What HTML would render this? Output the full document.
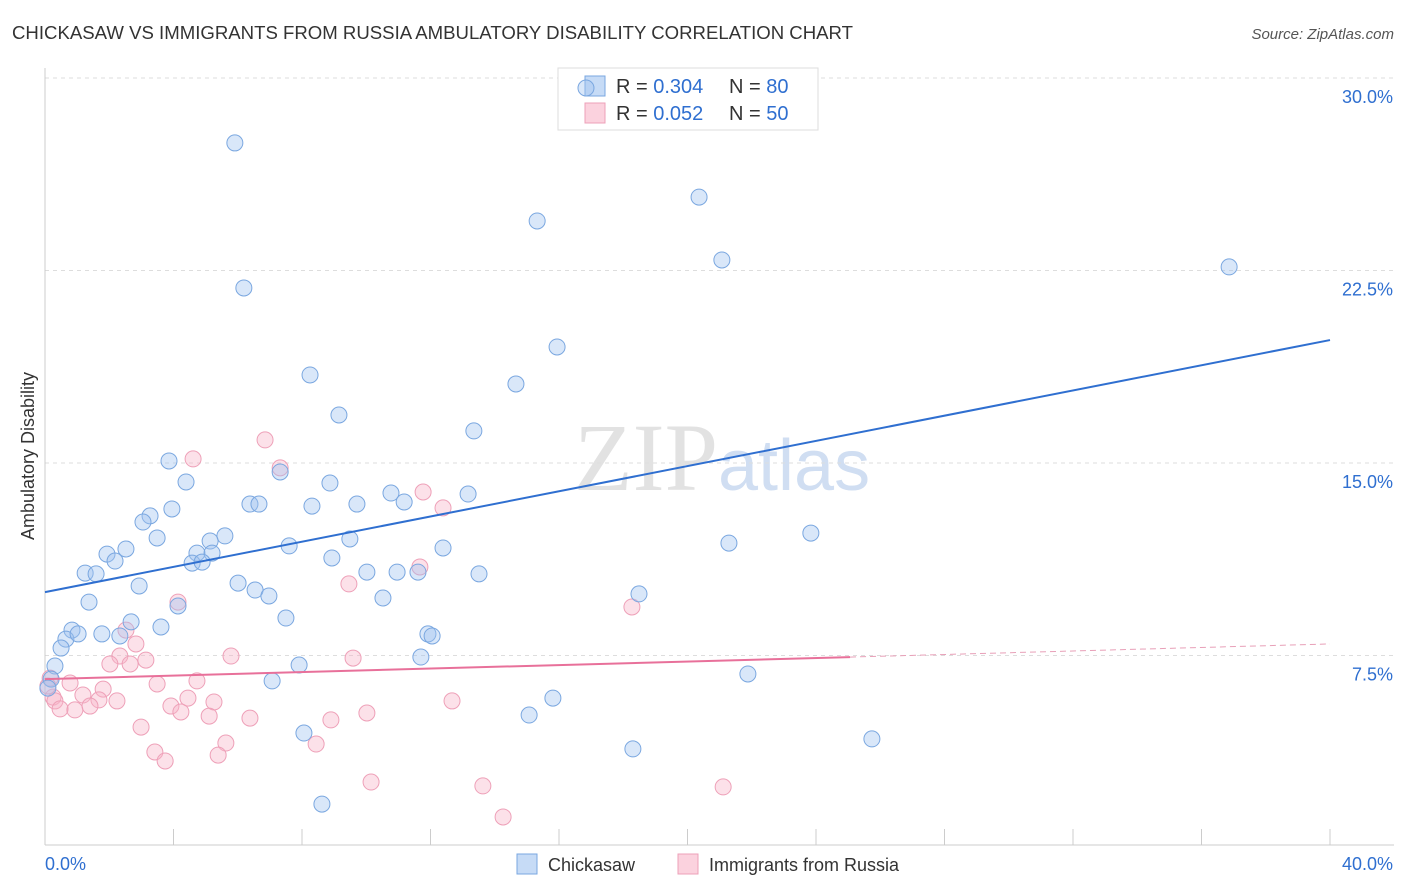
<!DOCTYPE html>
<html><head><meta charset="utf-8">
<style>
body{margin:0;background:#fff;font-family:"Liberation Sans",sans-serif;}
svg{display:block}
</style></head>
<body>
<svg id="chart" width="1406" height="892">
<text x="12" y="39" font-size="18.6" fill="#333">CHICKASAW VS IMMIGRANTS FROM RUSSIA AMBULATORY DISABILITY CORRELATION CHART</text>
<text x="1394" y="39" font-size="15" fill="#555" font-style="italic" text-anchor="end">Source: ZipAtlas.com</text>
<text x="718" y="490" font-size="96" fill="#e2e2e2" text-anchor="end" font-family="Liberation Serif">ZIP</text>
<text x="718" y="490" font-size="72" fill="#d0def2">atlas</text>
<g id="grid"></g>
<g id="axes"></g>
<g>
<rect x="558" y="68" width="260" height="62" fill="#fff" stroke="#ddd"/>
<rect x="585" y="76" width="20" height="20" fill="rgba(160,195,240,0.6)" stroke="#7aa7e0"/>
<rect x="585" y="103" width="20" height="20" fill="rgba(248,180,200,0.6)" stroke="#eea0b8"/>
<text x="616" y="93" font-size="20" fill="#333">R = <tspan fill="#2f6fd0">0.304</tspan></text>
<text x="729" y="93" font-size="20" fill="#333">N = <tspan fill="#2f6fd0">80</tspan></text>
<text x="616" y="120" font-size="20" fill="#333">R = <tspan fill="#2f6fd0">0.052</tspan></text>
<text x="729" y="120" font-size="20" fill="#333">N = <tspan fill="#2f6fd0">50</tspan></text>
</g>
<g id="marks"></g>
<text transform="translate(34,456) rotate(-90)" font-size="18" fill="#333" text-anchor="middle">Ambulatory Disability</text>
<g>
<rect x="517" y="854" width="20" height="20" fill="rgba(160,195,240,0.6)" stroke="#7aa7e0"/>
<text x="548" y="871" font-size="18" fill="#333">Chickasaw</text>
<rect x="678" y="854" width="20" height="20" fill="rgba(248,180,200,0.6)" stroke="#eea0b8"/>
<text x="709" y="871" font-size="18" fill="#333">Immigrants from Russia</text>
</g>
</svg>
<script>
const yTicks=[7.5,15,22.5,30];
const yTickLabels=["7.5%","15.0%","22.5%","30.0%"];
const xTicks=[0,4,8,12,16,20,24,28,32,36,40];
const blueX=[5.91,6.19,16.84,20.36,15.32,21.07,36.86,15.94,8.25,14.66,9.15,13.35,3.86,4.39,7.32,8.87,10.77,13.17,6.38,6.66,8.31,9.71,11.18,3.95,3.27,3.05,5.60,5.14,3.49,7.60,9.49,12.39,2.52,1.93,4.73,5.20,2.18,4.58,4.89,8.93,21.29,23.84,1.25,1.59,2.93,6.01,6.54,6.97,10.02,10.96,11.61,13.51,10.52,1.37,4.14,18.49,2.68,3.61,7.50,0.84,0.65,1.03,1.77,2.33,11.92,12.05,0.50,0.31,7.91,11.70,0.19,7.07,21.88,15.81,15.07,8.06,25.74,18.30,8.62,0.09];
const blueY=[27.47,21.82,29.61,25.36,24.43,22.91,22.64,19.52,18.43,18.08,16.87,16.25,15.08,14.26,14.65,14.22,13.83,13.79,13.40,13.40,13.32,13.40,13.48,13.21,12.94,12.70,12.16,11.96,12.08,11.77,12.04,11.69,11.65,11.45,11.49,11.49,11.18,11.10,11.14,11.30,11.88,12.27,10.71,10.68,10.21,10.32,10.05,9.82,10.75,10.75,10.75,10.68,9.74,9.58,9.43,9.90,8.81,8.61,8.96,8.49,8.14,8.34,8.34,8.26,8.34,8.26,7.79,7.09,7.13,7.44,6.58,6.51,6.78,5.84,5.18,4.48,4.25,3.86,1.71,6.23];
const pinkX=[6.85,4.61,7.32,11.77,12.39,11.67,9.46,4.14,18.27,2.52,2.83,2.33,3.14,2.02,2.65,5.79,9.59,0.16,0.78,3.49,4.73,1.81,1.18,0.25,0.31,1.68,2.24,4.45,5.26,0.47,0.93,1.40,3.92,4.23,5.11,6.38,8.90,10.02,12.67,2.99,5.63,3.42,5.39,3.74,8.44,10.15,13.63,21.11,14.26,0.09];
const pinkY=[15.90,15.16,14.81,13.87,13.25,10.95,10.29,9.58,9.39,8.49,7.95,7.48,7.32,7.17,7.17,7.48,7.40,6.62,6.43,6.39,6.51,6.19,5.96,5.88,5.73,5.77,5.73,5.84,5.69,5.42,5.38,5.53,5.53,5.30,5.14,5.06,4.99,5.26,5.73,4.71,4.09,3.74,3.62,3.39,4.05,2.57,2.42,2.38,1.21,6.31];
const blueTrend=[9.97,19.79];
const pinkTrend=[6.58,7.95];
const pinkSolidEnd=25.06;

const NS="http://www.w3.org/2000/svg";
const X0=45,X1=1330,Y0=848,PPY=25.667;
const sx=v=>X0+(v/40)*(X1-X0);
const sy=v=>Y0-v*PPY;
function mk(t,a,p){const e=document.createElementNS(NS,t);for(const k in a)e.setAttribute(k,a[k]);p.appendChild(e);return e;}
const grid=document.getElementById('grid'),axes=document.getElementById('axes'),marks=document.getElementById('marks');
yTicks.forEach((v,i)=>{
 const l=mk('line',{x1:45,x2:1394,y1:sy(v),y2:sy(v),stroke:'#ddd','stroke-dasharray':'4,4'},grid);
 
 
 const t=mk('text',{x:1393,y:sy(v)+25,'font-size':18,fill:'#2f6fd0','text-anchor':'end'},axes);
 t.textContent=yTickLabels[i];
 
 
});
const ya=mk('line',{x1:45,x2:45,y1:68,y2:845,stroke:'#ccc'},axes);


const xa=mk('line',{x1:45,x2:1394,y1:845,y2:845,stroke:'#ccc'},axes);


xTicks.forEach(v=>{
 const l=mk('line',{x1:sx(v),x2:sx(v),y1:829,y2:845,stroke:'#ccc'},axes);
 
 
});
const xl0=mk('text',{x:45,y:870,'font-size':18,fill:'#2f6fd0'},axes);xl0.textContent='0.0%';


const xl1=mk('text',{x:1393,y:870,'font-size':18,fill:'#2f6fd0','text-anchor':'end'},axes);xl1.textContent='40.0%';



pinkX.forEach((v,i)=>{
 const c=mk('circle',{cx:sx(v),cy:sy(pinkY[i]),r:8,fill:'rgba(248,180,200,0.4)',stroke:'#eea0b8','stroke-width':1},marks);
 
 
});
blueX.forEach((v,i)=>{
 const c=mk('circle',{cx:sx(v),cy:sy(blueY[i]),r:8,fill:'rgba(160,195,240,0.4)',stroke:'#7aa7e0','stroke-width':1},marks);
 
 
});
const bt=mk('line',{x1:sx(0),y1:sy(blueTrend[0]),x2:sx(40),y2:sy(blueTrend[1]),stroke:'#2f6fd0','stroke-width':2},marks);


const pm=pinkTrend[0]+(pinkTrend[1]-pinkTrend[0])*pinkSolidEnd/40;
const pt=mk('line',{x1:sx(0),y1:sy(pinkTrend[0]),x2:sx(pinkSolidEnd),y2:sy(pm),stroke:'#e8709a','stroke-width':2},marks);


const pd=mk('line',{x1:sx(pinkSolidEnd),y1:sy(pm),x2:sx(40),y2:sy(pinkTrend[1]),stroke:'#e8a0b8','stroke-width':1,'stroke-dasharray':'6,4'},marks);


</script>
</body></html>
